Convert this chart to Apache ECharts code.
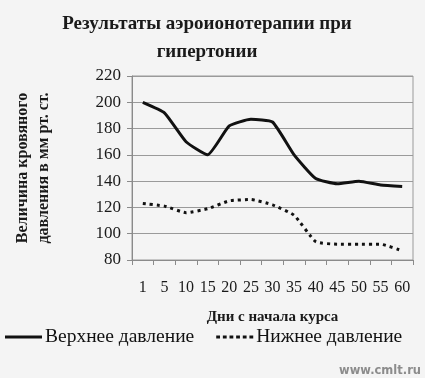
<!DOCTYPE html>
<html>
<head>
<meta charset="utf-8">
<script src="https://cdn.jsdelivr.net/npm/echarts@6/dist/echarts.min.js"></script>
<style>
  html, body { margin: 0; padding: 0; background: #f4f4f4; }
  #chart { width: 425px; height: 378px; }
</style>
</head>
<body>
<div id="chart"></div>
<script>
// Days since start of the course
const days = ['1', '5', '10', '15', '20', '25', '30', '35', '40', '45', '50', '55', '60'];
// Systolic (upper) pressure
const upperPressure = [200, 192, 170, 160, 182, 187, 185, 160, 142, 138, 140, 137, 136];
// Diastolic (lower) pressure
const lowerPressure = [123, 121, 116, 119, 125, 126, 122, 114, 94, 92, 92, 92, 87];
const yTicks = { min: 80, max: 220, interval: 20 };

const serif = 'Liberation Serif';

const chart = echarts.init(document.getElementById('chart'));

chart.setOption({
    backgroundColor: '#f4f4f4',
    animation: false,
    title: {
        text: 'Результаты аэроионотерапии при\nгипертонии',
        left: 202,
        textAlign: 'center',
        top: 5,
        textStyle: {
            fontFamily: serif,
            fontWeight: 'bold',
            fontSize: 19,
            lineHeight: 28,
            color: '#1a1a1a'
        }
    },
    legend: {
        left: 5,
        top: 327,
        padding: 0,
        itemGap: 22,
        itemWidth: 37,
        itemHeight: 14,
        textStyle: { fontFamily: serif, fontSize: 19.5, color: '#111', padding: [0, 0, 0, -2] },
        data: [
            { name: 'Верхнее давление', icon: 'path://M0,6 L36,6 L36,9 L0,9 Z' },
            { name: 'Нижнее давление', icon: 'path://M0,6 L4,6 L4,9 L0,9 Z M7,6 L11,6 L11,9 L7,9 Z M14,6 L18,6 L18,9 L14,9 Z M21,6 L25,6 L25,9 L21,9 Z M28,6 L32,6 L32,9 L28,9 Z M35,6 L39,6 L39,9 L35,9 Z' }
        ]
    },
    grid: {
        left: 132,
        right: 12,
        top: 76,
        bottom: 118,
        show: true,
        borderColor: '#9a9a9a',
        borderWidth: 1,
        backgroundColor: 'transparent'
    },
    xAxis: {
        type: 'category',
        data: days,
        boundaryGap: true,
        name: 'Дни с начала курса',
        nameLocation: 'middle',
        nameGap: 50,
        nameTextStyle: { fontFamily: serif, fontWeight: 'bold', fontSize: 15, color: '#1a1a1a' },
        axisLine: { lineStyle: { color: '#8a8a8a', width: 1 } },
        axisTick: { show: true, length: 5, alignWithLabel: false, lineStyle: { color: '#8a8a8a' } },
        axisLabel: { fontFamily: serif, fontSize: 16, color: '#1a1a1a', margin: 20, interval: 0 }
    },
    yAxis: {
        type: 'value',
        min: yTicks.min,
        max: yTicks.max,
        interval: yTicks.interval,
        name: 'Величина кровяного\nдавления в мм рт. ст.',
        nameLocation: 'middle',
        nameRotate: 90,
        nameGap: 78,
        nameTextStyle: { fontFamily: serif, fontWeight: 'bold', fontSize: 16, lineHeight: 21, color: '#1a1a1a' },
        axisLine: { show: true, lineStyle: { color: '#8a8a8a', width: 1 } },
        axisTick: { show: true, length: 5, lineStyle: { color: '#8a8a8a' } },
        axisLabel: { fontFamily: serif, fontSize: 17, color: '#1a1a1a', margin: 11 },
        splitLine: { lineStyle: { color: '#9a9a9a', width: 1 } }
    },
    graphic: [{
        type: 'text',
        right: 4,
        top: 365,
        style: {
            text: 'www.cmlt.ru',
            font: 'bold 11.5px "DejaVu Sans"',
            fill: '#8c8c8c'
        }
    }],
    series: [
        {
            name: 'Верхнее давление',
            type: 'line',
            data: upperPressure,
            smooth: 0.15,
            showSymbol: false,
            symbol: 'none',
            lineStyle: { color: '#111', width: 3 },
            itemStyle: { color: '#111' }
        },
        {
            name: 'Нижнее давление',
            type: 'line',
            data: lowerPressure,
            smooth: 0.15,
            showSymbol: false,
            symbol: 'none',
            lineStyle: { color: '#111', width: 3, type: [3, 4] },
            itemStyle: { color: '#111' }
        }
    ]
});
</script>
</body>
</html>
